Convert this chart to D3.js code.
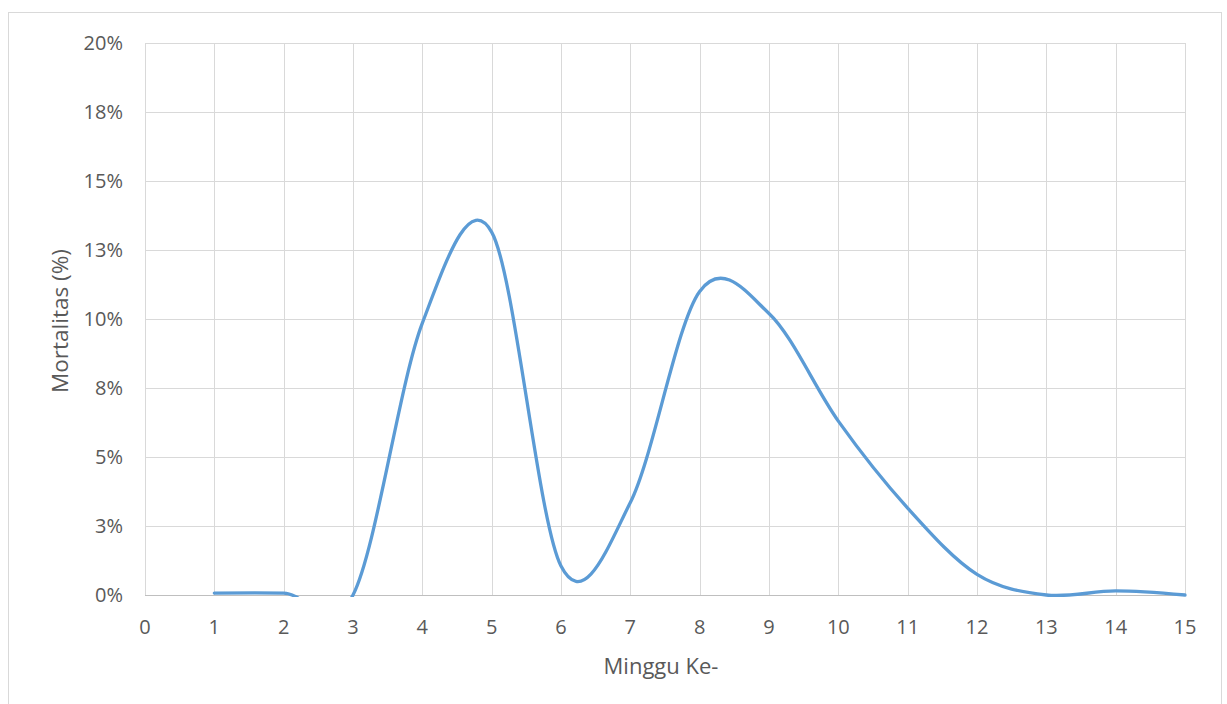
<!DOCTYPE html>
<html lang="id">
<head>
    <meta charset="UTF-8">
    <title>Mortalitas per Minggu</title>
    <script src="https://d3js.org/d3.v7.min.js"></script>
    <style>
        body { margin: 0; background: #fff; }
        text { font-family: "Open Sans", sans-serif; fill: #595959; }
    </style>
</head>
<body>
    <div id="chart"></div>

    <script>
        // data
        var weeks = [1, 2, 3, 4, 5, 6, 7, 8, 9, 10, 11, 12, 13, 14, 15];
        var mortality = [0.07, 0.07, 0, 9.85, 13.15, 1.05, 3.35, 11.0, 10.2, 6.3, 3.15, 0.75, 0, 0.15, 0];
        var xTicks = [0, 1, 2, 3, 4, 5, 6, 7, 8, 9, 10, 11, 12, 13, 14, 15];
        var yTicks = [0, 2.5, 5, 7.5, 10, 12.5, 15, 17.5, 20];
        var yTickLabels = ["0%", "3%", "5%", "8%", "10%", "13%", "15%", "18%", "20%"];

        var W = 1227, H = 704;

        var svg = d3.select("#chart")
          .append("svg")
            .attr("width", W)
            .attr("height", H);

        // chart area border
        svg.append("rect")
            .attr("x", 8.5)
            .attr("y", 12.5)
            .attr("width", 1213)
            .attr("height", 700)
            .style("fill", "#fff")
            .style("stroke", "#d9d9d9");

        var x = d3.scaleLinear().domain([0, 15]).range([145, 1185]);
        var y = d3.scaleLinear().domain([0, 20]).range([595, 43]);

        // grid lines
        svg.append("g")
          .selectAll("line")
          .data(yTicks.slice(1))
          .enter().append("line")
            .attr("x1", x(0)).attr("x2", x(15))
            .attr("y1", function(d) { return Math.round(y(d)) + 0.5; })
            .attr("y2", function(d) { return Math.round(y(d)) + 0.5; })
            .style("stroke", "#d9d9d9");

        svg.append("g")
          .selectAll("line")
          .data(xTicks)
          .enter().append("line")
            .attr("x1", function(d) { return Math.round(x(d)) + 0.5; })
            .attr("x2", function(d) { return Math.round(x(d)) + 0.5; })
            .attr("y1", y(20)).attr("y2", y(0))
            .style("stroke", "#d9d9d9");

        // x axis line
        svg.append("line")
            .attr("x1", x(0)).attr("x2", x(15))
            .attr("y1", Math.round(y(0)) + 0.5).attr("y2", Math.round(y(0)) + 0.5)
            .style("stroke", "#bfbfbf");

        // tick labels
        svg.append("g")
          .selectAll("text")
          .data(yTicks)
          .enter().append("text")
            .attr("x", 123)
            .attr("y", function(d) { return y(d); })
            .attr("dy", "0.36em")
            .style("text-anchor", "end")
            .style("font-size", "20px")
            .text(function(d, i) { return yTickLabels[i]; });

        svg.append("g")
          .selectAll("text")
          .data(xTicks)
          .enter().append("text")
            .attr("x", function(d) { return x(d); })
            .attr("y", 627)
            .attr("dy", "0.36em")
            .style("text-anchor", "middle")
            .style("font-size", "20px")
            .text(function(d) { return d; });

        // axis titles
        svg.append("text")
            .attr("x", 661)
            .attr("y", 666)
            .attr("dy", "0.36em")
            .style("text-anchor", "middle")
            .style("font-size", "22px")
            .text("Minggu Ke-");

        svg.append("text")
            .attr("transform", "translate(60,321) rotate(-90)")
            .attr("dy", "0.36em")
            .style("text-anchor", "middle")
            .style("font-size", "22.5px")
            .text("Mortalitas (%)");

        // clip so the smoothed line stays in the plot area
        svg.append("clipPath")
            .attr("id", "plotClip")
          .append("rect")
            .attr("x", x(0))
            .attr("y", y(20))
            .attr("width", x(15) - x(0) + 4)
            .attr("height", y(0) - y(20) + 2);

        var line = d3.line()
            .x(function(d, i) { return x(weeks[i]); })
            .y(function(d) { return y(d); })
            .curve(d3.curveCatmullRom.alpha(0));

        svg.append("path")
            .datum(mortality)
            .attr("clip-path", "url(#plotClip)")
            .attr("d", line)
            .style("fill", "none")
            .style("stroke", "#5b9bd5")
            .style("stroke-width", 3.3)
            .style("stroke-linejoin", "round")
            .style("stroke-linecap", "round");
    </script>
</body>
</html>
